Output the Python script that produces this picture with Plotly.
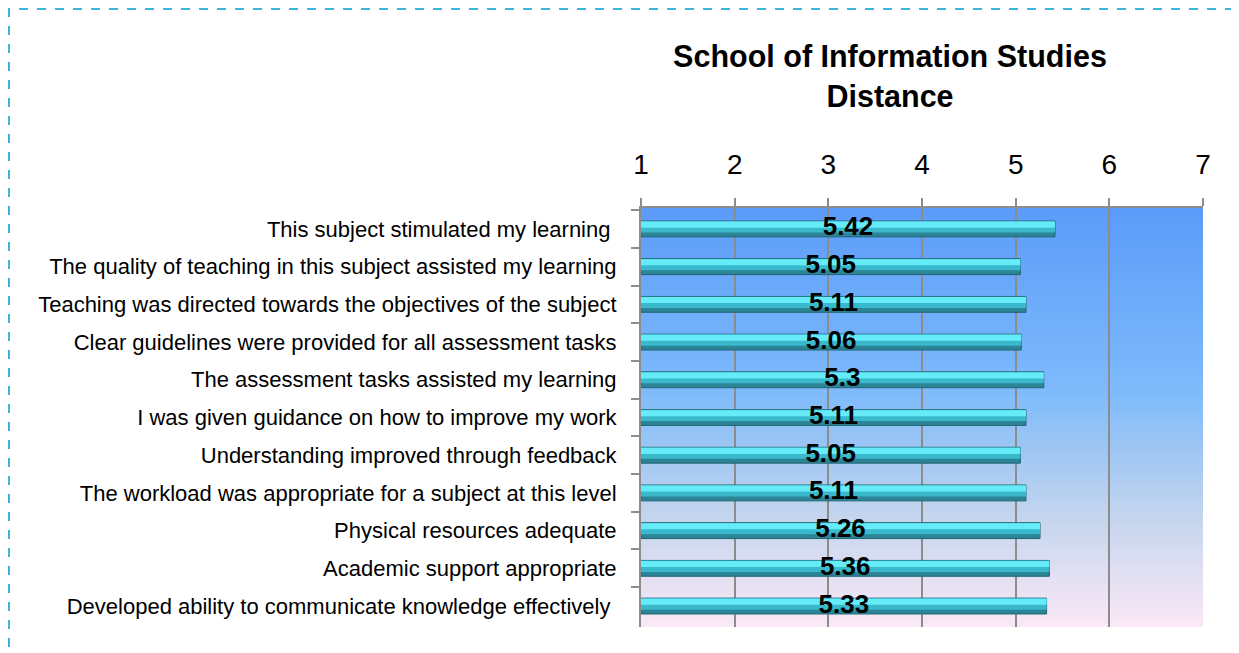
import plotly.graph_objects as go

categories = [
    "This subject stimulated my learning\u00a0",
    "The quality of teaching in this subject assisted my learning",
    "Teaching was directed towards the objectives of the subject",
    "Clear guidelines were provided for all assessment tasks",
    "The assessment tasks assisted my learning",
    "I was given guidance on how to improve my work",
    "Understanding improved through feedback",
    "The workload was appropriate for a subject at this level",
    "Physical resources adequate",
    "Academic support appropriate",
    "Developed ability to communicate knowledge effectively\u00a0",
]
scores = [5.42, 5.05, 5.11, 5.06, 5.3, 5.11, 5.05, 5.11, 5.26, 5.36, 5.33]
x_ticks = [1, 2, 3, 4, 5, 6, 7]
axis_min = 1

FONT = "Liberation Sans, Arial, sans-serif"

fig = go.Figure()

# bar body (darker base) and highlight overlays
fig.add_trace(go.Bar(
    y=categories, x=[s - axis_min for s in scores], base=axis_min,
    orientation="h", width=0.42,
    marker=dict(color="#2c8596", line=dict(color="#1f6472", width=1)),
    hoverinfo="skip", showlegend=False,
))
fig.add_trace(go.Bar(
    y=categories, x=[s - axis_min for s in scores], base=axis_min,
    orientation="h", width=0.3, offset=-0.205,
    marker=dict(color="#3ab8cc", line=dict(width=0)),
    hoverinfo="skip", showlegend=False,
))
fig.add_trace(go.Bar(
    y=categories, x=[s - axis_min for s in scores], base=axis_min,
    orientation="h", width=0.16, offset=-0.195,
    marker=dict(color="#66ecf9", line=dict(width=0)),
    hoverinfo="skip", showlegend=False,
))
# labels centred on the bars
fig.add_trace(go.Scatter(
    y=categories, x=[(s + axis_min) / 2 for s in scores],
    mode="text", text=[f"<b>{s:g}</b>" for s in scores],
    textfont=dict(family=FONT, size=26, color="black"),
    hoverinfo="skip", showlegend=False,
))

# gradient background
stops = [(0.0, (0x5b, 0x9b, 0xf9)), (0.45, (0x80, 0xbb, 0xfb)),
         (0.6, (0xa3, 0xc8, 0xf2)), (0.75, (0xc6, 0xd6, 0xee)),
         (0.88, (0xe2, 0xe0, 0xf3)), (1.0, (0xfb, 0xe8, 0xf5))]
def col(t):
    for (t0, c0), (t1, c1) in zip(stops[:-1], stops[1:]):
        if t0 <= t <= t1:
            f = (t - t0) / (t1 - t0)
            return "rgb(%d,%d,%d)" % tuple(round(a + (b - a) * f) for a, b in zip(c0, c1))
    return "rgb(251,232,245)"
N = 80
shapes = []
for i in range(N):
    t = (i + 0.5) / N
    shapes.append(dict(type="rect", xref="x domain", yref="y domain",
                       x0=0, x1=1, y0=1 - (i + 1) / N, y1=1 - i / N + 0.002,
                       fillcolor=col(t), line=dict(width=0), layer="below"))

# page body margin offsets the figure by 8px
OFF = 8
W, H = 1239 - OFF, 653 - OFF
L, T = 641 - OFF, 208 - OFF
R = W - (1203 - OFF)
B = H - (627 - OFF)
pw, ph = W - L - R, H - T - B
def px(x): return (x - OFF - L) / pw
def py(y): return (H - B - (y - OFF)) / ph
shapes.append(dict(type="rect", xref="paper", yref="paper",
                   x0=px(9), x1=px(1236), y0=py(670), y1=py(9),
                   line=dict(color="#3cb4dc", width=2, dash="dash"),
                   fillcolor="rgba(0,0,0,0)", layer="above"))

fig.update_layout(
    width=W, height=H,
    margin=dict(l=L, r=R, t=T, b=B, autoexpand=False),
    paper_bgcolor="white", plot_bgcolor="rgba(0,0,0,0)",
    barmode="overlay",
    shapes=shapes,
    title=dict(text="<b>School of Information Studies<br>Distance</b>",
               x=(890 - OFF) / W, xanchor="center", y=1 - 59 / H, yanchor="middle",
               font=dict(family=FONT, size=30.5, color="black")),
    font=dict(family=FONT, color="black"),
    showlegend=False,
)
fig.update_xaxes(
    side="top", range=[1, 7], tickvals=x_ticks, ticktext=[str(v) for v in x_ticks],
    showgrid=True, gridcolor="#8c8c8c", gridwidth=2,
    showline=True, linecolor="#8c8c8c", linewidth=2,
    ticks="outside", ticklen=8, tickwidth=2, tickcolor="#8c8c8c",
    ticklabelstandoff=13,
    tickfont=dict(family=FONT, size=28, color="black"),
    zeroline=False, fixedrange=True,
)
fig.update_yaxes(
    categoryorder="array", categoryarray=categories, autorange="reversed",
    showline=True, linecolor="#8c8c8c", linewidth=2,
    ticks="outside", ticklen=8, tickwidth=2, tickcolor="#8c8c8c",
    tickson="boundaries", showgrid=False,
    ticklabelstandoff=18,
    tickfont=dict(family=FONT, size=22, color="black"),
    fixedrange=True,
)

fig.write_html("out.html")
